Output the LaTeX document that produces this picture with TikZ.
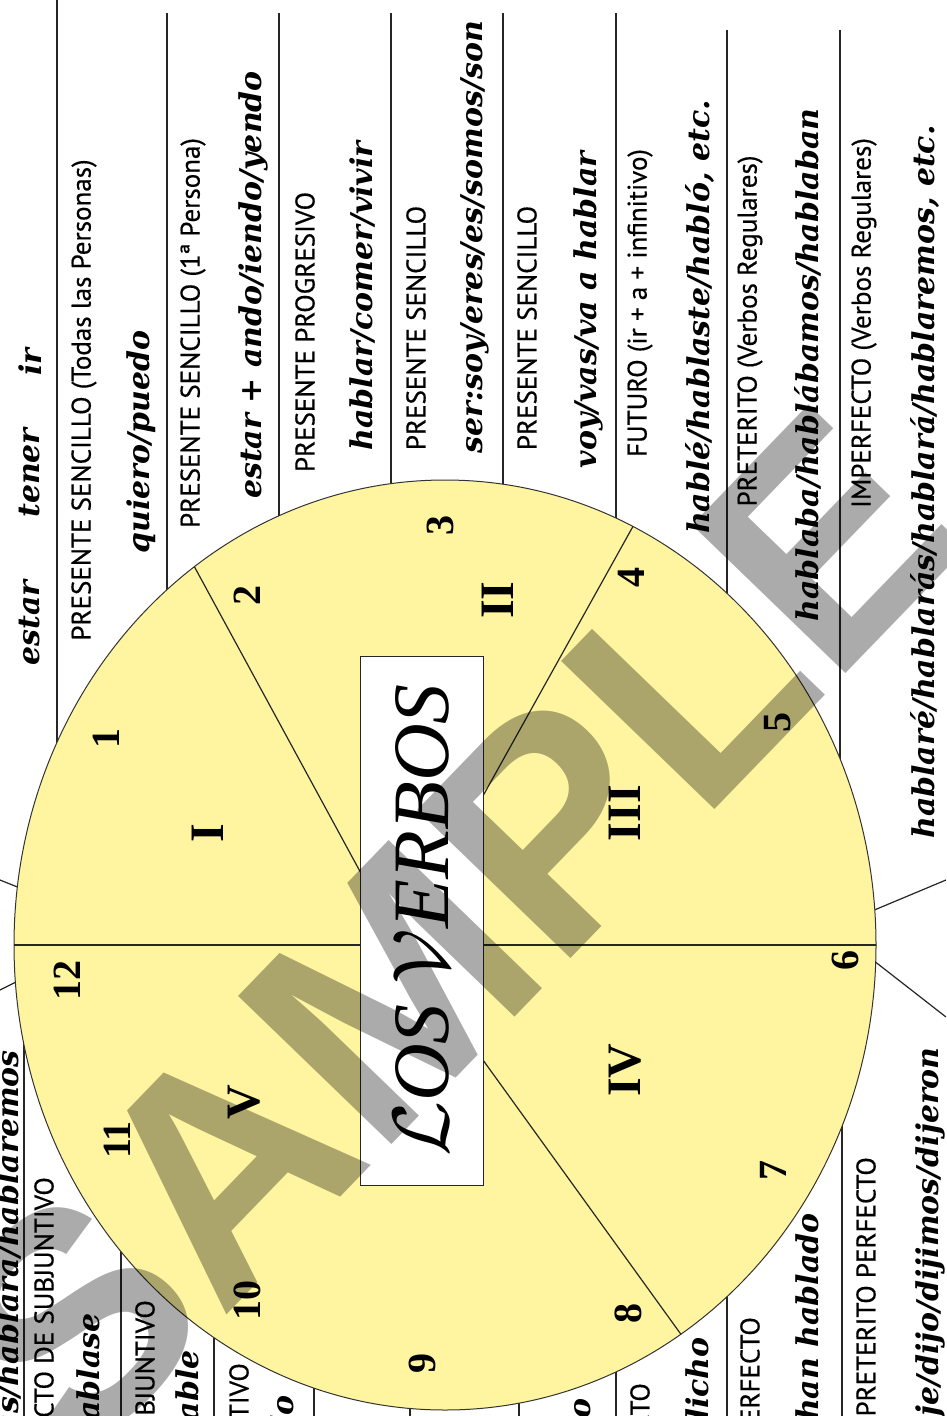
\RequirePackage{fix-cm}
\documentclass[tikz,border=0pt]{standalone}
\usepackage{fontspec}
\setmainfont{Liberation Serif}
\newfontfamily\labfont[FakeBold=0.5]{PT Sans}
\newfontfamily\bigfont{DejaVu Serif}
\newfontfamily\wmfont{Liberation Sans}
\definecolor{disc}{RGB}{255,245,160}
\tikzset{
  lab/.style={rotate=90, inner sep=0pt, font=\labfont\fontsize{27}{27}\selectfont},
  big/.style={rotate=90, inner sep=0pt, font=\bigfont\bfseries\itshape\fontsize{30}{30}\selectfont},
  num/.style={rotate=90, inner sep=0pt, font=\bfseries\fontsize{40}{40}\selectfont},
  rom/.style={rotate=90, inner sep=0pt, font=\bfseries\fontsize{48}{48}\selectfont},
  rule/.style={line width=1.2pt, black!85},
}
\begin{document}
\begin{tikzpicture}[x=1pt,y=-1pt]
\useasboundingbox (0,0) rectangle (946,1416);
\clip (0,0) rectangle (946,1416);
\fill[white] (0,0) rectangle (946,1416);

% column rules, upper half
\foreach \xx/\yy in {57/0,167/13,279/13,391/13,503/13,616/13,727/30,840/30}
  \draw[rule] (\xx,\yy) -- (\xx,945);
% column rules, lower half
\foreach \xx in {24,121,214,314,410,519,616,727,842}
  \draw[rule] (\xx,945) -- (\xx,1416);
% outer dividers
\draw[rule] (0,880) -- (30,892);
\draw[rule] (0,990) -- (30,975);
\draw[rule] (860,916) -- (946,880);
\draw[rule] (860,950) -- (946,1017);

% upper texts
\node[big] (t0a) at (30,623) {estar};
\node[big] (t0b) at (30,473) {tener};
\node[big] (t0c) at (30,362) {ir};
\node[lab] (l1) at (84,400) {PRESENTE SENCILLO (Todas las Personas)};
\node[big] (b1) at (141,442) {quiero/puedo};
\node[lab] (l2) at (193,333) {PRESENTE SENCILLO (1ª Persona)};
\node[big] (b2) at (253,285) {estar + ando/iendo/yendo};
\node[lab] (l3) at (305,332) {PRESENTE PROGRESIVO};
\node[big] (b3) at (362,296) {hablar/comer/vivir};
\node[lab] (l4) at (416,328) {PRESENTE SENCILLO};
\node[big] (b4) at (475,237) {ser:soy/eres/es/somos/son};
\node[lab] (l5) at (527,328) {PRESENTE SENCILLO};
\node[big] (b5) at (588,310) {voy/vas/va a hablar};
\node[lab] (l6) at (640,303) {FUTURO (ir + a + infinitivo)};
\node[big] (b6) at (700,317) {hablé/hablaste/habló, etc.};
\node[lab] (l7) at (750,331) {PRETERITO (Verbos Regulares)};
\node[big] (b7) at (808,365) {hablaba/hablábamos/hablaban};
\node[lab] (l8) at (864,323) {IMPERFECTO (Verbos Regulares)};
\node[big] (b8) at (925,482) {hablaré/hablarás/hablará/hablaremos, etc.};

% lower texts (cut by the page edge)
\node[big, anchor=east] (c0) at (8,1050) {hablaré/hablarás/hablará/hablaremos};
\node[lab, anchor=east] (m1) at (44,1177) {IMPERFECTO DE SUBJUNTIVO};
\node[big, anchor=east] (c1) at (88,1313) {hablase};
\node[lab, anchor=east] (m2) at (145,1300) {PRESENTE DE SUBJUNTIVO};
\node[big, anchor=east] (c2) at (187,1350) {hable};
\node[lab, anchor=east] (m3) at (239,1363) {IMPERATIVO};
\node[big, anchor=east] (c3) at (282,1395) {hablo};
\node[big, anchor=east] (c5) at (579,1398) {hablado};
\node[lab, anchor=east] (m7) at (640,1383) {PARTICIPIO PERFECTO};
\node[big, anchor=east] (c7) at (698,1337) {hecho/dicho};
\node[lab, anchor=east] (m8) at (750,1317) {PRESENTE PERFECTO};
\node[big, anchor=east] (c8) at (808,1213) {he/has/ha/hemos/han hablado};
\node[lab, anchor=east] (m9) at (866,1157) {PRETERITO PERFECTO};
\node[big, anchor=east] (c9) at (930,1047) {dije/dijo/dijimos/dijeron};

% the disc
\filldraw[fill=disc, draw=black!80, line width=1pt] (445,945) ellipse [x radius=431pt, y radius=465pt];
\begin{scope}
  \clip (445,945) ellipse [x radius=431pt, y radius=465pt];
  \coordinate (C) at (400,945);
  \coordinate (rL) at (0,945);
  \coordinate (rR) at (946,945);
  \coordinate (r2) at (150,485);
  \coordinate (r4) at (700,406);
  \coordinate (r8) at (750,1430);
  \draw[rule] (rL) -- (rR);
  \draw[rule] (C) -- (r2);
  \draw[rule] (C) -- (r4);
  \draw[rule] (C) -- (r8);
\end{scope}

% clock numbers
\node[num] (n1) at (106,738) {1};
\node[num] (n2) at (247,595) {2};
\node[num] (n3) at (440,525) {3};
\node[num] (n4) at (631,577) {4};
\node[num] (n5) at (778,722) {5};
\node[num] (n6) at (845,960) {6};
\node[num] (n7) at (773,1170) {7};
\node[num] (n8) at (628,1313) {8};
\node[num] (n9) at (422,1363) {9};
\node[num] (n10) at (247,1300) {10};
\node[num] (n11) at (117,1140) {11};
\node[num] (n12) at (67,980) {12};
% group numerals
\node[rom] (g1) at (208,833) {I};
\node[rom] (g2) at (498,600) {II};
\node[rom] (g3) at (625,813) {III};
\node[rom] (g4) at (625,1070) {IV};
\node[rom] (g5) at (244,1102) {V};

% title box
\node[draw=black!85, line width=1pt, fill=white, rotate=90, minimum width=529pt, minimum height=123pt,
      font=\itshape\fontsize{80}{80}\selectfont] (box) at (421.5,920.5) {$\mathcal{L}$OS $\mathcal{V}$ERBOS};

% watermark
\node[rotate=46, font=\wmfont\bfseries\fontsize{310}{310}\selectfont, text=black, opacity=0.33] (wm) at (450,930) {SAMPLE};
\end{tikzpicture}
\end{document}
